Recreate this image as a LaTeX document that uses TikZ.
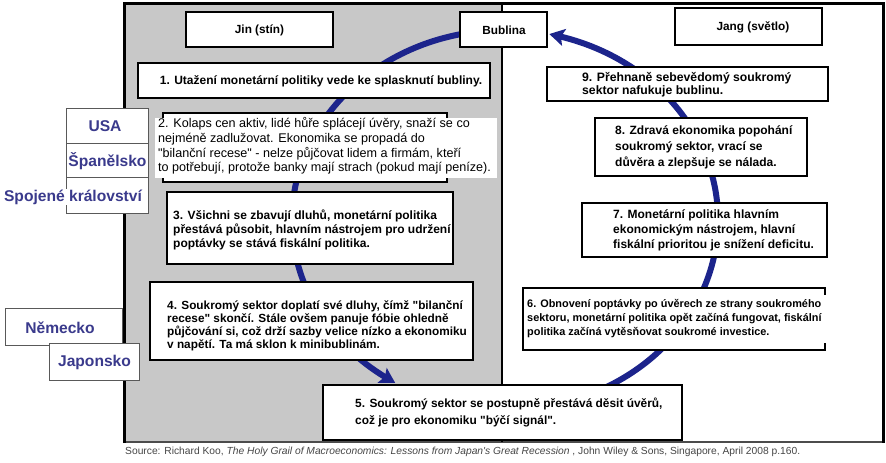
\documentclass[tikz,border=0pt]{standalone}
\usepackage{fontspec}
\usepackage{graphicx}
\setmainfont{Liberation Sans}[Ligatures=TeXOff]
\usetikzlibrary{arrows.meta,bending}
\definecolor{panel}{RGB}{200,200,200}
\definecolor{flowc}{RGB}{28,36,140}
\definecolor{ctry}{RGB}{58,58,140}
\definecolor{srcc}{RGB}{70,70,70}
\begin{document}
\begin{tikzpicture}[x=1pt,y=-1pt,
  box/.style={draw=black,line width=2pt,fill=white,inner sep=0pt},
  cbox/.style={draw=black!65,line width=0.9pt,fill=white,inner sep=0pt},
  head/.style={inner sep=0pt,font=\fontsize{11.8}{14}\selectfont\bfseries},
  txt/.style={inner sep=0pt,anchor=west,align=left,font=\fontsize{12}{15}\selectfont\bfseries},
  ctxt/.style={inner sep=0pt,text=ctry,font=\fontsize{15.6}{18}\selectfont\bfseries},
  flowline/.style={draw=flowc,line width=6pt},
  tip/.style={-{Stealth[length=15pt,width=17pt,inset=3pt,bend]}},
]
\useasboundingbox (0,0) rectangle (886,463);
\fill[white] (0,0) rectangle (886,463);
% panels and frame
\fill[panel] (124,3) rectangle (502,442);
\draw[line width=2pt,black!70] (124,442) -- (883,442);
\draw[line width=3pt] (124,443) -- (124,3) -- (883,3) -- (883,443);
\draw[line width=2.5pt] (502,3) -- (502,442);
% cycle arrows
\coordinate (ctr) at (505,220);
\coordinate (L0) at ([shift={(95:213pt and 190pt)}]ctr);
\coordinate (R0) at ([shift={(-62:213pt and 190pt)}]ctr);
\draw[flowline,tip] (L0) arc[start angle=95,end angle=239,x radius=213pt,y radius=190pt];
\draw[flowline,tip] (R0) arc[start angle=-62,end angle=78,x radius=213pt,y radius=190pt];
% heading boxes
\node[box,minimum width=147pt,minimum height=35pt] (jin) at (259.5,29.5) {};
\node[head] (jint) at (259.5,30) {Jin (stín)};
\node[box,minimum width=87pt,minimum height=35pt] (bub) at (503.5,29.5) {};
\node[head] (bubt) at (504,30) {Bublina};
\node[box,minimum width=147pt,minimum height=37pt] (jang) at (748.5,26.5) {};
\node[head] (jangt) at (753,27) {Jang (světlo)};
% step boxes
\node[box,minimum width=352pt,minimum height=35pt] (b1) at (314,80.5) {};
\node[txt,anchor=center] (t1) at (321,81.5) {1. Utažení monetární politiky vede ke splasknutí bubliny.};
\node[box,minimum width=284pt,minimum height=69pt] (b2) at (305,147.5) {};
\fill[white] (155,118) rectangle (497,178);
\node[txt,font=\fontsize{12.6}{14.8}\selectfont] (t2) at (158,146) {2. Kolaps cen aktiv, lidé hůře splácejí úvěry, snaží se co\\nejméně zadlužovat. Ekonomika se propadá do\\"bilanční recese" - nelze půjčovat lidem a firmám, kteří\\to potřebují, protože banky mají strach (pokud mají peníze).};
\node[box,minimum width=286pt,minimum height=72pt] (b3) at (310,228) {};
\node[txt,font=\fontsize{12}{13.7}\selectfont\bfseries] (t3) at (173,230) {3. Všichni se zbavují dluhů, monetární politika\\přestává působit, hlavním nástrojem pro udržení\\poptávky se stává fiskální politika.};
\node[box,minimum width=323pt,minimum height=78pt] (b4) at (311.5,321) {};
\node[txt,font=\fontsize{11.8}{13.2}\selectfont\bfseries] (t4) at (167,326) {4. Soukromý sektor doplatí své dluhy, čímž "bilanční\\recese" skončí. Stále ovšem panuje fóbie ohledně\\půjčování si, což drží sazby velice nízko a ekonomiku\\v napětí. Ta má sklon k minibublinám.};
\node[box,minimum width=359pt,minimum height=55pt] (b5) at (502.5,412.5) {};
\node[txt,font=\fontsize{11.9}{17}\selectfont\bfseries] (t5) at (355,412) {5. Soukromý sektor se postupně přestává děsit úvěrů,\\což je pro ekonomiku "býčí signál".};
\node[box,minimum width=302pt,minimum height=62pt] (b6) at (674,319) {};
\fill[white] (527,295) rectangle (831,343);
\node[txt,font=\fontsize{10.9}{14}\selectfont\bfseries] (t6) at (527,319) {6. Obnovení poptávky po úvěrech ze strany soukromého\\sektoru, monetární politika opět začíná fungovat, fiskální\\politika začíná vytěsňovat soukromé investice.};
\node[box,minimum width=245pt,minimum height=54pt] (b7) at (704.5,230) {};
\node[txt,font=\fontsize{12}{15}\selectfont\bfseries] (t7) at (613,230) {7. Monetární politika hlavním\\ekonomickým nástrojem, hlavní\\fiskální prioritou je snížení deficitu.};
\node[box,minimum width=212pt,minimum height=58pt] (b8) at (701,147) {};
\node[txt,font=\fontsize{12}{16}\selectfont\bfseries] (t8) at (615,147) {8. Zdravá ekonomika popohání\\soukromý sektor, vrací se\\důvěra a zlepšuje se nálada.};
\node[box,minimum width=281pt,minimum height=34pt] (b9) at (687.5,84) {};
\node[txt,font=\fontsize{12.2}{13.5}\selectfont\bfseries] (t9) at (582,84.5) {9. Přehnaně sebevědomý soukromý\\sektor nafukuje bublinu.};
% country boxes
\node[cbox,minimum width=82pt,minimum height=35pt] (usa) at (107,125.5) {};
\node[ctxt] (usat) at (105,126) {USA};
\node[cbox,minimum width=82pt,minimum height=34pt] (esp) at (107,160) {};
\node[ctxt] (espt) at (107.5,161) {Španělsko};
\node[cbox,minimum width=82pt,minimum height=36pt] (uk) at (107,195) {};
\node[ctxt,fill=white,inner ysep=1pt] (ukt) at (73,197) {Spojené království};
\node[cbox,minimum width=117pt,minimum height=37pt] (ger) at (63.5,326.5) {};
\node[ctxt] (gert) at (60,328) {Německo};
\node[cbox,minimum width=90pt,minimum height=37pt] (jap) at (94,361.5) {};
\node[ctxt] (japt) at (94.5,362) {Japonsko};
% source
\node[inner sep=0pt,anchor=west,text=srcc] (src) at (125,452) {\resizebox{675pt}{!}{\fontsize{9}{10}\selectfont Source: Richard Koo, \textit{The Holy Grail of Macroeconomics: Lessons from Japan's Great Recession} , John Wiley \& Sons, Singapore, April 2008 p.160.}};
\end{tikzpicture}
\end{document}
